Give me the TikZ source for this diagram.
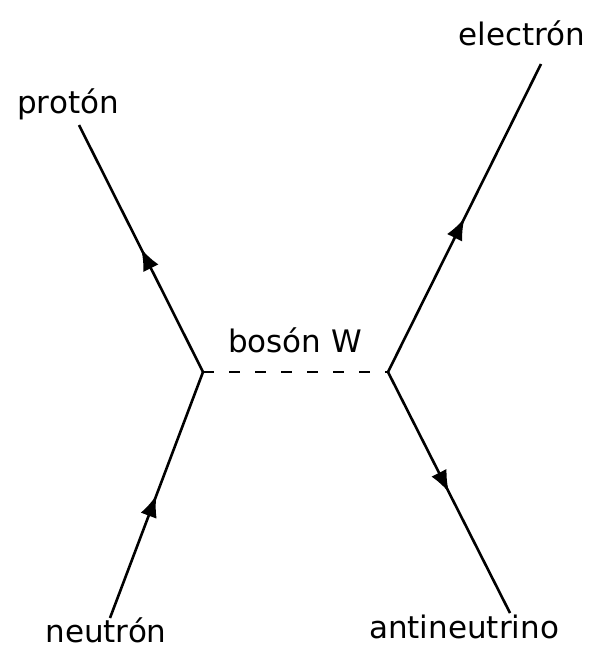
\documentclass[tikz,border=0pt]{standalone}
\usepackage{fontspec}
\setmainfont{DejaVu Sans}
\usetikzlibrary{arrows.meta, decorations.markings}

\begin{document}
\begin{tikzpicture}[x=1pt, y=-1pt]

  % Styles for the particle lines
  \tikzset{
    fermion/.style={
      line width=2.6pt,
      postaction={decorate},
      decoration={
        markings,
        mark=at position 0.5 with {\arrow{Latex[length=22pt,width=17pt]}}
      }
    },
    boson/.style={line width=2.6pt, dash pattern=on 11pt off 15pt},
    particle/.style={anchor=base, inner sep=0pt, font=\fontsize{31}{36}\selectfont}
  }

  \useasboundingbox (0,0) rectangle (601,648);

  % Vertices
  \coordinate (V1) at (203,372);
  \coordinate (V2) at (388,372);

  % Free ends of the external lines
  \coordinate (P) at (79,125);
  \coordinate (N) at (110,618);
  \coordinate (E) at (541,64);
  \coordinate (A) at (510,613);

  % Exchanged boson
  \draw[boson] (V1) -- (V2);

  % Hadron side
  \draw[fermion] (N) -- (V1);
  \draw[fermion] (V1) -- (P);

  % Lepton side
  \draw[fermion] (V2) -- (E);
  \draw[fermion] (V2) -- (A);

  % Labels
  \node[particle] (lp) at (68,113) {protón};
  \node[particle] (ln) at (106,642) {neutrón};
  \node[particle] (le) at (522,45) {electrón};
  \node[particle] (la) at (464,638) {antineutrino};
  \node[particle] (lw) at (295,352) {bosón W};

\end{tikzpicture}
\end{document}
